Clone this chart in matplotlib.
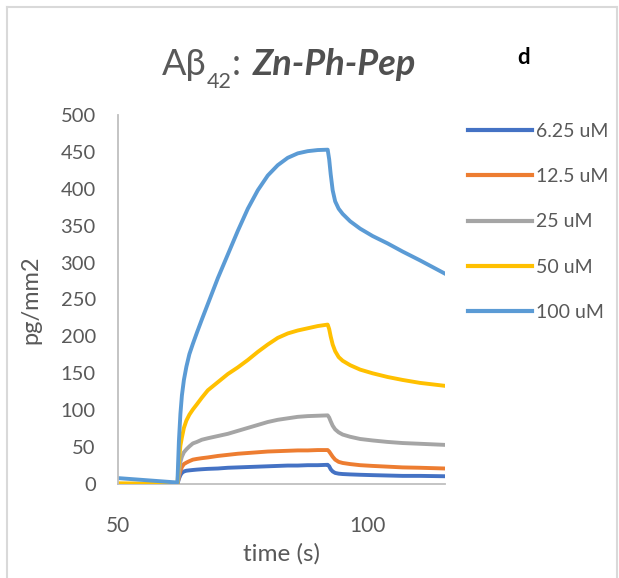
import matplotlib
matplotlib.use("Agg")
import matplotlib.pyplot as plt
from matplotlib.lines import Line2D

plt.rcParams['font.family'] = ['Lato', 'DejaVu Sans']

# sensorgram time points (s), shared by all concentrations
time_s = [50, 61.9, 62.0, 62.2, 62.5, 62.8, 63.2, 63.7, 64.3, 65.0, 65.8, 66.8,
          68, 70, 72, 74, 76, 78, 80, 82, 84, 86, 88, 90, 92,
          92.3, 92.6, 93.0, 93.5, 94.2, 95, 96.5, 98.5, 101, 104, 107, 110.5, 115.5]

resp_6_25 = [0, 0, 2, 7, 12, 15, 17, 18, 18.5, 19, 19.5, 20,
             20.5, 21, 22, 22.5, 23, 23.5, 24, 24.5, 25, 25, 25.5, 25.5, 26,
             24, 20, 17, 15, 14, 13.5, 13, 12.5, 12, 11.5, 11, 11, 10.5]
resp_12_5 = [0, 0, 3, 10, 18, 23, 27, 29, 31, 33, 34, 35,
             36, 38, 39.5, 41, 42, 43, 44, 44.5, 45, 45.5, 45.5, 46, 46,
             44, 41, 37, 33, 30, 28.5, 27, 25.5, 24.5, 23.5, 22.5, 22, 21]
resp_25 = [0, 0, 4, 14, 30, 37, 43, 47, 51, 55, 57, 60,
           62, 65, 68, 72, 76, 80, 84, 87, 89, 91, 92, 92.5, 93,
           90, 85, 79, 74, 70, 67, 64, 61, 59, 57, 55.5, 54.5, 53]
resp_50 = [1, 0, 10, 30, 52, 63, 76, 86, 94, 101, 108, 117,
           127, 138, 149, 158, 168, 179, 189, 198, 204, 208, 211, 214, 216,
           210, 200, 189, 180, 172, 167, 161, 155, 150, 145, 141, 137, 133]
resp_100 = [8, 2, 20, 58, 95, 120, 141, 159, 176, 190, 205, 223,
            244, 279, 311, 343, 373, 398, 418, 432, 442, 448, 451, 452.5, 453,
            440, 420, 398, 383, 373, 366, 356, 346, 336, 326, 315, 303, 285]

series = [resp_6_25, resp_12_5, resp_25, resp_50, resp_100]
labels = ["6.25 uM", "12.5 uM", "25 uM", "50 uM", "100 uM"]
colors = ["#4472C4", "#ED7D31", "#A5A5A5", "#FFC000", "#5B9BD5"]

W, H = 619, 578
fig = plt.figure(figsize=(W / 100, H / 100), dpi=100)

# chart frame
frame_col = "#d9d9d9"
fig.add_artist(Line2D([7 / W, 617 / W], [1 - 7 / H, 1 - 7 / H], color=frame_col, lw=1.5))
fig.add_artist(Line2D([7 / W, 7 / W], [0, 1 - 7 / H], color=frame_col, lw=1.5))
fig.add_artist(Line2D([617 / W, 617 / W], [0, 1 - 7 / H], color=frame_col, lw=1.5))

ax = fig.add_axes([118 / W, 1 - 484 / H, (445 - 118) / W, (484 - 115) / H])

for y, lab, c in zip(series, labels, colors):
    ax.plot(time_s, y, color=c, lw=2.8, label=lab, solid_joinstyle='round')

ax.set_xlim(50, 115.5)
ax.set_ylim(0, 500)
ax.set_xticks([50, 100])
ax.set_yticks(range(0, 501, 50))

for s in ["top", "right"]:
    ax.spines[s].set_visible(False)
for s in ["left", "bottom"]:
    ax.spines[s].set_color("#bfbfbf")
    ax.spines[s].set_linewidth(1.3)
ax.spines["bottom"].set_zorder(0)

tick_col = "#595959"
ax.tick_params(axis="y", length=0, pad=16, labelsize=14.5, labelcolor=tick_col)
ax.tick_params(axis="x", length=0, pad=23, labelsize=15, labelcolor=tick_col)

ax.set_ylabel("pg/mm2", fontsize=17, color=tick_col, labelpad=14)
ax.set_xlabel("time (s)", fontsize=17.5, color=tick_col, labelpad=5)

leg = ax.legend(loc="upper left", bbox_to_anchor=(468 / W, 1 - 123 / H),
                bbox_transform=fig.transFigure, frameon=False, fontsize=14,
                handlelength=3.3, handletextpad=0.2, labelspacing=1.45,
                borderaxespad=0, borderpad=0)
for txt in leg.get_texts():
    txt.set_color(tick_col)
for h in leg.get_lines():
    h.set_linewidth(3)

# title: A-beta with subscript, then bold italic compound name
fig.canvas.draw()
r = fig.canvas.get_renderer()
ty = 1 - 75 / H
t1 = fig.text(162 / W, ty, "Aβ", fontsize=26, color=tick_col, va="baseline")
x1 = t1.get_window_extent(r).x1 / W
t2 = fig.text(x1, ty - 13 / H, "42", fontsize=15.5, color=tick_col, va="baseline")
x2 = t2.get_window_extent(r).x1 / W
t3 = fig.text(x2, ty, ":", fontsize=26, color=tick_col, va="baseline")
x3 = t3.get_window_extent(r).x1 / W
fig.text(x3 + 12 / W, ty, "Zn-Ph-Pep", fontsize=26, color="#505050", va="baseline",
         fontweight="bold", fontstyle="italic")

fig.text(524 / W, 1 - 57 / H, "d", fontsize=16, fontweight="bold", color="black",
         ha="center", va="center")

fig.savefig("out.png", dpi=100)
